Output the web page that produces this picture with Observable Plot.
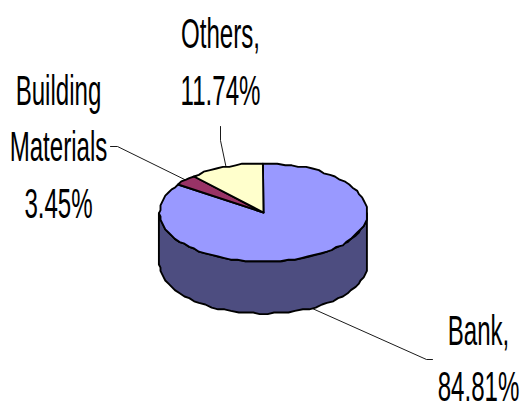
<!DOCTYPE html>
<html>
<head>
<meta charset="utf-8">
<script src="https://cdn.jsdelivr.net/npm/d3@7"></script>
<script src="https://cdn.jsdelivr.net/npm/@observablehq/plot@0.6"></script>
<style>
html,body{margin:0;padding:0;background:#fff}
svg{display:block}
</style>
</head>
<body>
<div id="chart"></div>
<script>
const categories = ["Bank", "Building Materials", "Others"];
const shares = [84.81, 3.45, 11.74];
const colors = ["#9999FF", "#993366", "#FFFFCC"];
const sideColor = "#4D4D80";
const labelLines = ["Bank,\n84.81%", "Building\nMaterials\n3.45%", "Others,\n11.74%"];
const labelX = [478, 58, 220];
const labelBaseY = [400.5, 217, 104];
const leaderBends = [[[426, 359], [432, 359]], [[117, 146], [110, 146]], [[220, 140], [220, 126]]];

const cx = 263, cy = 212, rx = 104, ry = 49, depth = 52;
const px = (a) => cx + rx * Math.sin(a);
const py = (a, dy = 0) => cy - ry * Math.cos(a) + dy;
const snap = (v) => Math.round(v / 1.6) * 1.6;
const arcPts = (a0, a1, dy = 0) => {
  const n = Math.max(1, Math.ceil(Math.abs(a1 - a0) / 0.07));
  return d3.range(n + 1).map((i) => {
    const a = a0 + (a1 - a0) * i / n;
    return {x: snap(px(a)), y: snap(py(a, dy))};
  });
};

const arcs = d3.pie().sort(null)(shares);
const slices = arcs.map((d) => [{x: cx, y: cy}, ...arcPts(d.startAngle, d.endAngle), {x: cx, y: cy}]);
const side = [...arcPts(Math.PI / 2, 3 * Math.PI / 2), ...arcPts(3 * Math.PI / 2, Math.PI / 2, depth)];
side.push(side[0]);

const leaders = arcs.map((d, i) => {
  const mid = (d.startAngle + d.endAngle) / 2;
  const front = Math.cos(mid) < 0;
  return [{x: px(mid), y: py(mid, front ? depth : 0)}, ...leaderBends[i].map(([x, y]) => ({x, y}))];
});

const labels = categories.map((c, i) => ({text: labelLines[i], x: labelX[i], y: labelBaseY[i]}));

const plot = Plot.plot({
  width: 523,
  height: 402,
  margin: 0,
  x: {domain: [0, 523], axis: null},
  y: {domain: [0, 402], range: [0, 402], axis: null},
  style: {background: "#fff"},
  marks: [
    ...leaders.map((l) => Plot.line(l, {x: "x", y: "y", stroke: "#000", strokeWidth: 0.9})),
    Plot.line(side, {x: "x", y: "y", fill: sideColor, stroke: "#000", strokeWidth: 1.9, strokeLinejoin: "round"}),
    ...slices.map((s, i) => Plot.line(s, {x: "x", y: "y", fill: colors[i], stroke: "#000", strokeWidth: 1.9, strokeLinejoin: "round"})),
    Plot.text(labels, {
      x: "x", y: "y", text: "text",
      textAnchor: "middle", lineAnchor: "bottom", lineHeight: 1.31,
      fontSize: 43, fontFamily: "Liberation Sans", fill: "#000",
      className: "lbl"
    })
  ]
});
d3.select(plot).selectAll(".lbl text").attr("transform", function () {
  return (this.getAttribute("transform") || "") + " scale(0.56,1)";
});
document.getElementById("chart").appendChild(plot);
</script>
</body>
</html>
